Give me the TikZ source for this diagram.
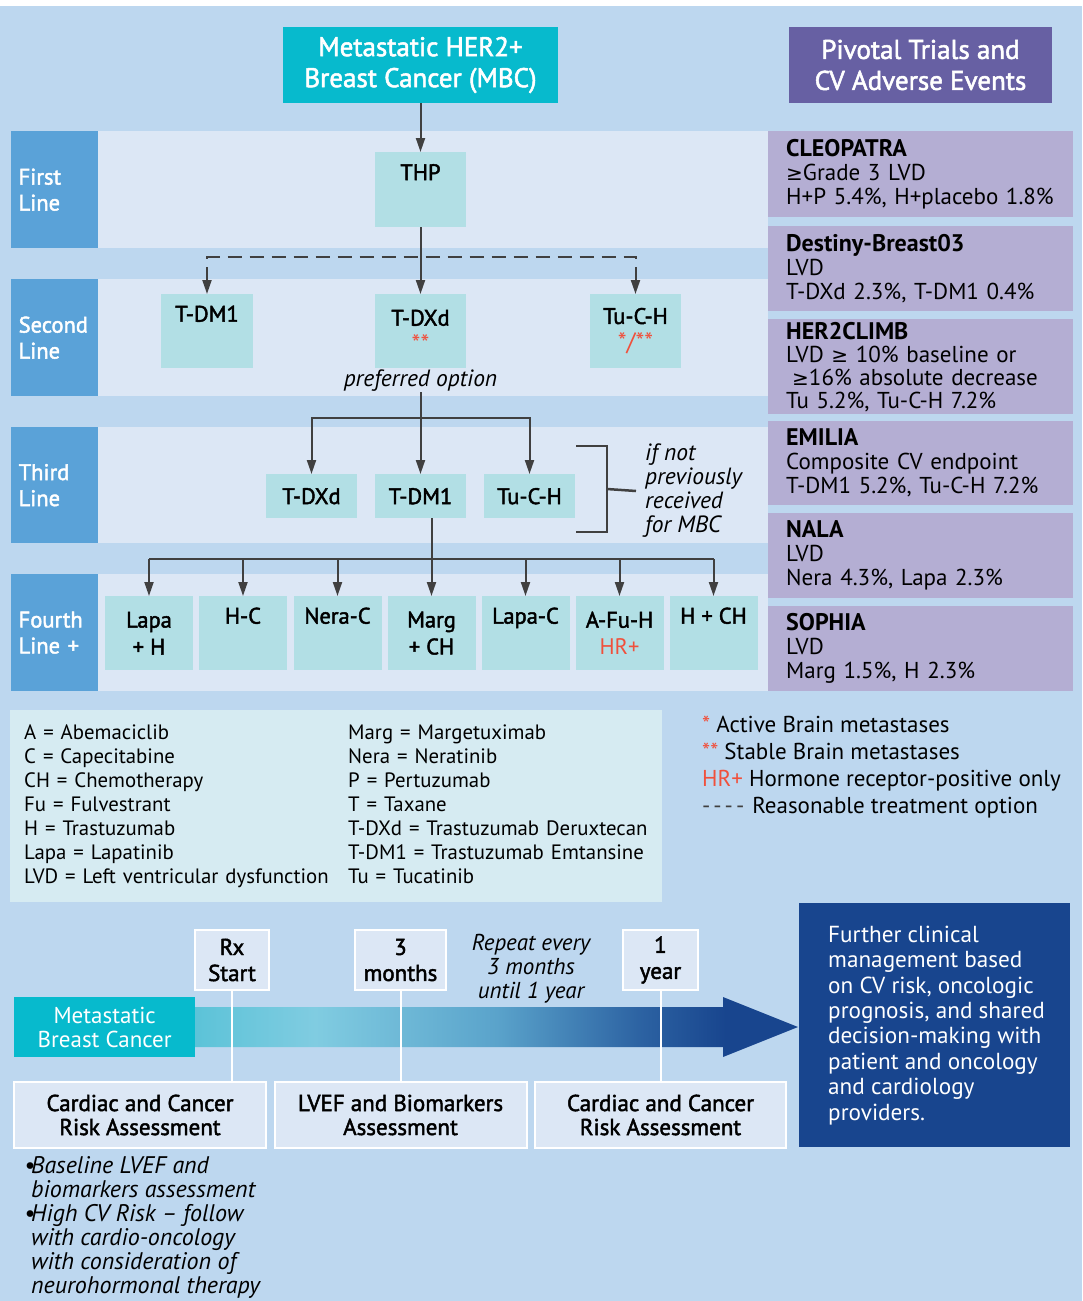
\documentclass[tikz,border=0pt]{standalone}
\usepackage{fontspec}
\setmainfont{PT Sans}
\newfontfamily\semibold[FakeBold=2]{PT Sans}
\newfontfamily\symbolfont{DejaVu Sans}
\usepackage{tikz}
\usepackage{xcolor}
\usetikzlibrary{arrows.meta}

\definecolor{bg-blue}{HTML}{BDD7EF}
\definecolor{band-blue}{HTML}{DCE7F5}
\definecolor{side-blue}{HTML}{5AA2D8}
\definecolor{drug-teal}{HTML}{B2DFE5}
\definecolor{head-cyan}{HTML}{07BACD}
\definecolor{head-purple}{HTML}{6760A3}
\definecolor{trial-purple}{HTML}{B4AED3}
\definecolor{key-teal}{HTML}{D6EBF2}
\definecolor{deep-blue}{HTML}{18458E}
\definecolor{star-red}{HTML}{F0503C}
\definecolor{line-grey}{HTML}{404040}
\definecolor{tl-a}{HTML}{5CC3D8}
\definecolor{tl-b}{HTML}{80CCE1}
\definecolor{tl-c}{HTML}{5AA3CB}
\definecolor{tl-d}{HTML}{2C62A2}

\pgfdeclarehorizontalshading{timeline-shade}{100bp}{color(0bp)=(tl-a); color(25bp)=(tl-a); color(35bp)=(tl-b); color(50bp)=(tl-c); color(62bp)=(tl-d); color(69bp)=(deep-blue); color(100bp)=(deep-blue)}

\newcommand{\trialname}[1]{{\bfseries\fontsize{24}{24}\selectfont #1}}
\newcommand{\geqsign}{{\symbolfont\fontsize{20}{24}\selectfont ≥}}
\newcommand{\redmark}[1]{{\rmfamily\fontsize{25}{27}\selectfont\color{star-red}#1}}

\tikzset{
    >={Triangle[length=14pt,width=9pt]},
    row-band/.style = {fill=band-blue, anchor=north west, minimum width=757pt, inner sep=0pt},
    line-label/.style = {fill=side-blue, text=white, anchor=north west, minimum width=87pt, text width=72pt, inner xsep=7.5pt, inner ysep=0pt, align=left, font=\semibold\fontsize{22.5}{26}\selectfont},
    title-box/.style = {text=white, inner sep=0pt, minimum height=76pt, align=center, font=\semibold\fontsize{27}{31}\selectfont},
    drug-box/.style = {fill=drug-teal, anchor=north, inner sep=0pt, align=center, font=\semibold\fontsize{22.5}{27}\selectfont},
    trial-box/.style = {fill=trial-purple, anchor=north west, minimum width=305pt, text width=269pt, inner xsep=18pt, inner ysep=0pt, align=left, font=\fontsize{23}{24}\selectfont},
    note-text/.style = {inner sep=0pt, font=\itshape\fontsize{23.5}{24}\selectfont},
    conn/.style = {draw=line-grey, line width=2pt, ->},
    dash-line/.style = {dash pattern=on 14pt off 8pt},
    bracket-line/.style = {draw=line-grey, line width=2.5pt},
    key-box/.style = {fill=key-teal, anchor=north west, minimum width=652pt, minimum height=192pt, text width=624pt, inner xsep=14pt, inner ysep=0pt, align=left, font=\fontsize{20.8}{24}\selectfont},
    time-box/.style = {fill=band-blue, draw=white, line width=2pt, anchor=north, inner sep=0pt, align=center, font=\semibold\fontsize{23}{26}\selectfont},
    tick-line/.style = {draw=white, line width=2pt},
}

\begin{document}
\begin{tikzpicture}[x=1pt, y=-1pt]
\useasboundingbox (0,0) rectangle (1082,1301);
\fill[bg-blue] (0,6) rectangle (1082,1301);

\node[title-box, fill=head-cyan, minimum width=275pt] (mbc) at (420.5,65) {Metastatic HER2+\\Breast Cancer (MBC)};
\node[title-box, fill=head-purple, minimum width=263pt] (pivotal) at (920.5,65) {Pivotal Trials and\\CV Adverse Events};

\node[row-band, minimum height=117pt] (row1) at (11,131) {};
\node[row-band, minimum height=117pt] (row2) at (11,279) {};
\node[row-band, minimum height=116pt] (row3) at (11,427) {};
\node[row-band, minimum height=117pt] (row4) at (11,574) {};
\node[line-label, minimum height=117pt] (first) at (11,131) {First\\Line};
\node[line-label, minimum height=117pt] (second) at (11,279) {Second\\Line};
\node[line-label, minimum height=116pt] (third) at (11,427) {Third\\Line};
\node[line-label, minimum height=117pt] (fourth) at (11,574) {Fourth\\Line +};

\node[drug-box, minimum width=91pt, minimum height=75pt] (thp) at (420.5,152) {THP\\\strut};
\node[drug-box, minimum width=92pt, minimum height=74pt] (sdm1) at (207,294) {T-DM1\\\strut};
\node[drug-box, minimum width=91pt, minimum height=74pt] (sdxd) at (420.5,294) {T-DXd\\\redmark{**}};
\node[drug-box, minimum width=91pt, minimum height=74pt] (stuch) at (635.5,294) {Tu-C-H\\\redmark{*/**}};
\node[note-text] (pref) at (420.5,381) {preferred option};

\node[drug-box, minimum width=91pt, minimum height=44pt] (tdxd) at (311.5,474) {T-DXd};
\node[drug-box, minimum width=91pt, minimum height=44pt] (tdm1) at (420.5,474) {T-DM1};
\node[drug-box, minimum width=91pt, minimum height=44pt] (ttuch) at (529.5,474) {Tu-C-H};
\node[note-text, anchor=west, align=left, inner xsep=9pt] (ifnot) at (636,491) {if not\\previously\\received\\for MBC};

\node[drug-box, minimum width=88pt, minimum height=74pt] (lapah) at (149,596) {Lapa\\+ H};
\node[drug-box, minimum width=88pt, minimum height=74pt] (hc) at (243,596) {H-C\\\strut};
\node[drug-box, minimum width=88pt, minimum height=74pt] (nerac) at (337.5,596) {Nera-C\\\strut};
\node[drug-box, minimum width=88pt, minimum height=74pt] (marg) at (431.5,596) {Marg\\+ CH};
\node[drug-box, minimum width=88pt, minimum height=74pt] (lapac) at (525.5,596) {Lapa-C\\\strut};
\node[drug-box, minimum width=88pt, minimum height=74pt] (afuh) at (619.5,596) {A-Fu-H\\{\rmfamily\color{star-red}HR+}};
\node[drug-box, minimum width=88pt, minimum height=74pt] (hch) at (713.5,596) {H + CH\\\strut};

\draw[conn] (mbc) -- (thp);
\draw[conn] (thp) -- (sdxd);
\coordinate (split2) at (420.5,257);
\draw[conn, dash-line, <->] (sdm1.north) |- (split2) -| (stuch.north);
\draw[conn] (pref) -- (tdm1);
\coordinate (split3) at (420.5,418);
\draw[conn, <->] (tdxd.north) |- (split3) -| (ttuch.north);
\draw[bracket-line] (576,446) -| (607,532) -- (576,532);
\draw[bracket-line] (607,489) -- (ifnot.west);
\coordinate (split4) at (431.5,559);
\draw[conn] (tdm1.south -| marg.north) -- (marg.north);
\draw[draw=line-grey, line width=2pt] (split4 -| lapah.north) -- (split4 -| hch.north);
\draw[conn] (split4 -| lapah.north) -- (lapah.north);
\draw[conn] (split4 -| hc.north) -- (hc.north);
\draw[conn] (split4 -| nerac.north) -- (nerac.north);
\draw[conn] (split4 -| lapac.north) -- (lapac.north);
\draw[conn] (split4 -| afuh.north) -- (afuh.north);
\draw[conn] (split4 -| hch.north) -- (hch.north);

\node[trial-box, minimum height=86pt] (cleopatra) at (768,131) {\trialname{CLEOPATRA}\\\mbox{\geqsign Grade 3 LVD}\\\mbox{H+P 5.4\%, H+placebo 1.8\%}};
\node[trial-box, minimum height=85pt] (destiny) at (768,226) {\trialname{Destiny-Breast03}\\LVD\\\mbox{T-DXd 2.3\%, T-DM1 0.4\%}};
\node[trial-box, minimum height=95pt, font=\fontsize{23}{23}\selectfont] (her2climb) at (768,319) {\trialname{HER2CLIMB}\\\mbox{LVD \geqsign\ 10\% baseline or}\\\mbox{\hspace*{6pt}\geqsign 16\% absolute decrease}\\\mbox{Tu 5.2\%, Tu-C-H 7.2\%}};
\node[trial-box, minimum height=84pt] (emilia) at (768,421) {\trialname{EMILIA}\\\mbox{Composite CV endpoint}\\\mbox{T-DM1 5.2\%, Tu-C-H 7.2\%}};
\node[trial-box, minimum height=85pt] (nala) at (768,513) {\trialname{NALA}\\LVD\\\mbox{Nera 4.3\%, Lapa 2.3\%}};
\node[trial-box, minimum height=85pt] (sophia) at (768,606) {\trialname{SOPHIA}\\LVD\\\mbox{Marg 1.5\%, H 2.3\%}};

\node[key-box] (abbrev) at (10,710) {\begin{tabular}{@{}p{324pt}@{}l@{}}
A = Abemaciclib & Marg = Margetuximab\\
C = Capecitabine & Nera = Neratinib\\
CH = Chemotherapy & P = Pertuzumab\\
Fu = Fulvestrant & T = Taxane\\
H = Trastuzumab & T-DXd = Trastuzumab Deruxtecan\\
Lapa = Lapatinib & T-DM1 = Trastuzumab Emtansine\\
LVD = Left ventricular dysfunction & Tu = Tucatinib
\end{tabular}};
\node[anchor=west, align=left, inner xsep=8pt, font=\fontsize{23}{27}\selectfont] (marks) at (694,767) {{\color{star-red}*} Active Brain metastases\\
{\color{star-red}**} Stable Brain metastases\\
{\color{star-red}HR+} Hormone receptor-positive only\\
{\color{line-grey}-\kern3pt-\kern3pt-\kern3pt-}\hspace{8pt}Reasonable treatment option};

\shade[shading=timeline-shade] (195,1007) -- (723,1007) -- (723,997) -- (798,1027) -- (723,1057) -- (723,1047) -- (195,1047) -- cycle;
\node[fill=head-cyan, text=white, anchor=north west, minimum width=181pt, minimum height=60pt, inner sep=0pt, align=center, font=\fontsize{23}{24}\selectfont] (mbcshort) at (14,997) {Metastatic\\Breast Cancer};
\node[time-box, minimum width=74pt, minimum height=60pt] (rx) at (232,929) {Rx\\Start};
\node[time-box, minimum width=91pt, minimum height=60pt] (months) at (400.5,929) {3\\months};
\node[time-box, minimum width=75pt, minimum height=60pt] (year) at (660.5,929) {1\\year};
\node[note-text, align=center, font=\itshape\fontsize{23}{24}\selectfont] (repeat) at (531,969) {Repeat every\\3 months\\until 1 year};
\node[time-box, minimum width=252pt, minimum height=66pt, font=\semibold\fontsize{23}{24}\selectfont] (assess1) at (140,1081) {Cardiac and Cancer\\Risk Assessment};
\node[time-box, minimum width=252pt, minimum height=66pt, font=\semibold\fontsize{23}{24}\selectfont] (assess2) at (400.5,1081) {LVEF and Biomarkers\\Assessment};
\node[time-box, minimum width=251pt, minimum height=66pt, font=\semibold\fontsize{23}{24}\selectfont] (assess3) at (660.5,1081) {Cardiac and Cancer\\Risk Assessment};
\draw[tick-line] (rx.south) -- (rx.south |- assess1.north);
\draw[tick-line] (months) -- (assess2);
\draw[tick-line] (year) -- (assess3);

\node[fill=deep-blue, anchor=north west, minimum width=271pt, minimum height=244pt, inner sep=0pt] (further) at (799,903) {};
\node[anchor=west, align=left, inner xsep=8pt, text=white, font=\fontsize{23.2}{25.4}\selectfont] (furthertext) at ([xshift=21pt]further.west) {Further clinical\\management based\\on CV risk, oncologic\\prognosis, and shared\\decision-making with\\patient and oncology\\and cardiology\\providers.};

\node[note-text, anchor=west, align=left, inner xsep=8pt, font=\itshape\fontsize{24}{24}\selectfont] (bullets) at (16,1227) {\makebox[7pt][l]{\textbullet}Baseline LVEF and\\\hspace*{7pt}biomarkers assessment\\\makebox[7pt][l]{\textbullet}High CV Risk -- follow\\\hspace*{7pt}with cardio-oncology\\\hspace*{7pt}with consideration of\\\hspace*{7pt}neurohormonal therapy};
\end{tikzpicture}
\end{document}
